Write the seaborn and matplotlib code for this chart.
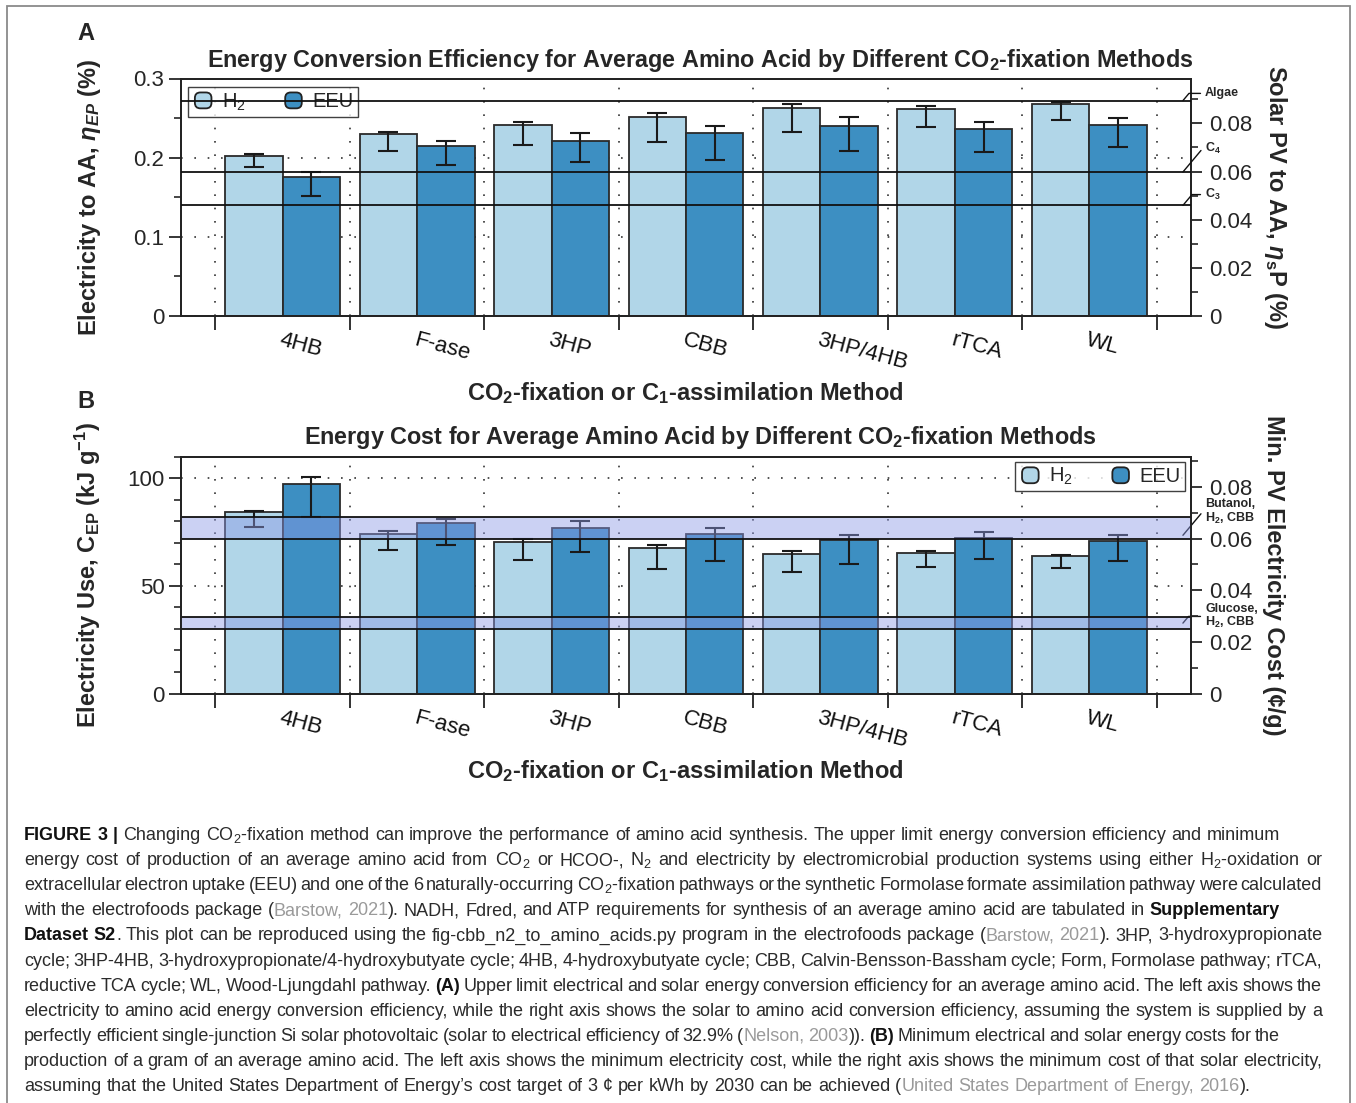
import numpy as np
import pandas as pd
import matplotlib
matplotlib.use("Agg")
import matplotlib.pyplot as plt
import seaborn as sns
from matplotlib.ticker import MultipleLocator
from matplotlib.transforms import IdentityTransform
from matplotlib.patches import Rectangle, FancyBboxPatch
from matplotlib.legend_handler import HandlerPatch

# ---- data ----
methods = ["4HB", "F-ase", "3HP", "CBB", "3HP/4HB", "rTCA", "WL"]
systems = ["H$_2$", "EEU"]

# A: electricity to amino acid efficiency (%)
eff_h2 = [0.202, 0.2294, 0.2416, 0.2517, 0.2626, 0.2618, 0.2676]
eff_h2_lo = [0.188, 0.208, 0.216, 0.2197, 0.2328, 0.2391, 0.2471]
eff_h2_hi = [0.205, 0.2324, 0.2454, 0.2563, 0.2672, 0.2651, 0.2706]
eff_eeu = [0.1756, 0.215, 0.2215, 0.2307, 0.2404, 0.2357, 0.2408]
eff_eeu_lo = [0.152, 0.191, 0.194, 0.197, 0.2084, 0.2071, 0.2134]
eff_eeu_hi = [0.1815, 0.221, 0.231, 0.2404, 0.2509, 0.245, 0.2505]

# B: electricity use (kJ/g)
cost_h2 = [84.2, 74.3, 70.5, 67.8, 64.9, 65.1, 63.7]
cost_h2_lo = [77.2, 66.7, 62.2, 58.0, 56.4, 58.9, 58.1]
cost_h2_hi = [85.0, 75.5, 71.6, 69.1, 66.0, 66.0, 64.3]
cost_eeu = [97.2, 79.2, 76.9, 73.9, 71.1, 72.3, 70.9]
cost_eeu_lo = [81.9, 68.8, 65.5, 61.5, 60.0, 62.5, 61.7]
cost_eeu_hi = [100.6, 81.1, 80.3, 77.1, 73.7, 75.2, 73.4]

# reference organisms (solar -> AA, %)
bio_names = ["Algae", "C$_\\mathbf{4}$", "C$_\\mathbf{3}$"]
bio_solar = [0.0895, 0.0598, 0.0459]
bio_label_off = [0.003, 0.010, 0.0045]

# reference products (kJ/g bands)
band_names = ["Butanol,\nH$_\\mathbf{2}$, CBB", "Glucose,\nH$_\\mathbf{2}$, CBB"]
band_lo = [71.6, 30.0]
band_hi = [81.9, 35.7]
band_leader = [73.5, 32.7]
band_label = [84.2, 35.8]

pv_eff = 0.329        # solar to electricity
price = 3 / 3600      # cents per kJ (3 c per kWh)

H2_COL = "#b1d6e8"
EEU_COL = "#3d8fc2"
BAND_COL = (0.55, 0.6, 0.9)

W, H = 1356, 1103

sns.set_style("ticks")
plt.rcParams["font.family"] = ["Liberation Sans", "DejaVu Sans"]
plt.rcParams["mathtext.fontset"] = "custom"
plt.rcParams["mathtext.rm"] = "Liberation Sans"
plt.rcParams["mathtext.it"] = "Liberation Sans:italic:bold"
plt.rcParams["mathtext.bf"] = "Liberation Sans:bold"

fig = plt.figure(figsize=(W / 100, H / 100), dpi=100)
fig.patch.set_facecolor("white")


def px(x, y):
    return x / W, 1 - y / H


class RoundHandler(HandlerPatch):
    # rounded legend swatches like the reference
    def create_artists(self, legend, orig_handle, xdescent, ydescent, width, height, fontsize, trans):
        p = FancyBboxPatch((-xdescent + 2, -ydescent + 1), width - 4, height - 2,
                           boxstyle="round,pad=0,rounding_size=4",
                           facecolor=orig_handle.get_facecolor(), edgecolor="#222",
                           lw=1.3, transform=trans)
        return [p]


def draw_bars(ax, h2, h2_lo, h2_hi, eeu, eeu_lo, eeu_hi):
    df = pd.DataFrame({"method": methods * 2,
                       "system": [systems[0]] * 7 + [systems[1]] * 7,
                       "value": h2 + eeu})
    sns.barplot(data=df, x="method", y="value", hue="system", order=methods,
                hue_order=systems, palette=[H2_COL, EEU_COL], saturation=1, width=0.855,
                edgecolor="#2a2a2a", linewidth=1.3, errorbar=None, legend=False,
                ax=ax, zorder=2)
    conts = list(ax.containers)[:2]
    for cont, v, lo, hi in zip(conts, [h2, eeu], [h2_lo, eeu_lo], [h2_hi, eeu_hi]):
        xs = [b.get_x() + b.get_width() / 2 for b in cont]
        v = np.array(v)
        ax.errorbar(xs, v, yerr=[v - np.array(lo), np.array(hi) - v], fmt="none",
                    ecolor="#1a1a1a", elinewidth=1.5, capsize=7, capthick=1.5, zorder=3)
    ax.set_xlim(-0.755, 6.755)
    ax.set_xticks(range(len(methods)))
    ax.set_xticklabels(methods, rotation=-15, ha="left", rotation_mode="anchor")
    ax.set_xticks(np.arange(-0.5, len(methods)), minor=True)
    ax.tick_params(axis="x", which="major", length=0, pad=10, labelsize=16, colors="#111")
    ax.tick_params(axis="x", which="minor", length=10, width=1.3, direction="out", color="#222")
    ax.tick_params(axis="y", which="major", length=9, width=1.3, labelsize=16, pad=3)
    ax.tick_params(axis="y", which="minor", length=5, width=1.2)
    ax.grid(True, axis="x", which="minor", ls=(0, (1, 7)), color="#333", lw=1.2)
    ax.grid(True, axis="y", which="major", ls=(0, (1, 7)), color="#333", lw=1.2)
    ax.grid(False, axis="x", which="major")
    ax.set_axisbelow(True)
    ax.set_xlabel("")
    ax.set_ylabel("")
    for s in ax.spines.values():
        s.set_visible(True)
        s.set_linewidth(1.3)
        s.set_color("#222")


def add_legend(ax, loc, anchor):
    handles = [c[0] for c in list(ax.containers)[:2]]
    leg = ax.legend(handles=handles, labels=systems, loc=loc, bbox_to_anchor=anchor,
                    borderaxespad=0, ncol=2, fontsize=14.5, frameon=True, fancybox=False,
                    edgecolor="#111", handlelength=1.1, handleheight=1.05, columnspacing=1.8,
                    handletextpad=0.4, borderpad=0.2, handler_map={Rectangle: RoundHandler()})
    leg.get_frame().set_linewidth(1.0)
    leg.set_zorder(7)
    return leg


def style_twin(ax2, top, ticks, labels):
    ax2.set_ylim(0, top)
    ax2.set_yticks(ticks)
    ax2.set_yticklabels(labels)
    ax2.yaxis.set_minor_locator(MultipleLocator(0.01))
    ax2.tick_params(axis="y", which="major", length=8, width=1.3, labelsize=16, pad=5)
    ax2.tick_params(axis="y", which="minor", length=5, width=1.2)
    for s in ax2.spines.values():
        s.set_linewidth(1.3)
        s.set_color("#222")


leader = dict(arrowstyle="-", color="#111", lw=1.0, shrinkA=1, shrinkB=0,
              connectionstyle="angle,angleA=0,angleB=50,rad=0")
LAB = 17

# ---- panel A ----
axA = fig.add_axes([181 / W, 1 - 315.7 / H, 1010 / W, 237.2 / H])
draw_bars(axA, eff_h2, eff_h2_lo, eff_h2_hi, eff_eeu, eff_eeu_lo, eff_eeu_hi)
axA.set_ylim(0, 0.3)
axA.set_yticks([0, 0.1, 0.2, 0.3])
axA.set_yticklabels(["0", "0.1", "0.2", "0.3"])
axA.yaxis.set_minor_locator(MultipleLocator(0.05))
axA.set_ylabel(r"Electricity to AA, $\eta_{EP}$ (%)", fontsize=LAB, weight="bold")
axA.yaxis.set_label_coords(-0.077, 0.5)
add_legend(axA, "upper left", (0.007, 0.964))

axA2 = axA.twinx()
style_twin(axA2, 0.3 * pv_eff, [0, 0.02, 0.04, 0.06, 0.08], ["0", "0.02", "0.04", "0.06", "0.08"])
axA2.set_ylabel(r"Solar PV to AA, $\eta_{\mathbf{s}}$P (%)", fontsize=LAB, weight="bold",
                rotation=-90, va="bottom")
axA2.yaxis.set_label_coords(1.07, 0.5)
for name, v, off in zip(bio_names, bio_solar, bio_label_off):
    axA2.axhline(v, color="#111", lw=1.3, zorder=6)
    axA2.annotate(name, xy=(6.695, v), xytext=(1.014, v + off),
                  textcoords=axA2.get_yaxis_transform(), ha="left", va="center",
                  fontsize=9, weight="bold", arrowprops=leader, annotation_clip=False)

# ---- panel B ----
axB = fig.add_axes([181 / W, 1 - 693.5 / H, 1010 / W, 236.8 / H])
draw_bars(axB, cost_h2, cost_h2_lo, cost_h2_hi, cost_eeu, cost_eeu_lo, cost_eeu_hi)
axB.set_ylim(0, 110)
axB.set_yticks([0, 50, 100])
axB.set_yticklabels(["0", "50", "100"])
axB.yaxis.set_minor_locator(MultipleLocator(10))
axB.set_ylabel(r"Electricity Use, C$_\mathbf{EP}$ (kJ g$^\mathbf{-1}$)", fontsize=LAB, weight="bold")
axB.yaxis.set_label_coords(-0.077, 0.5)
for lo, hi in zip(band_lo, band_hi):
    axB.axhspan(lo, hi, color=BAND_COL, alpha=0.45, lw=0, zorder=4)
    axB.axhline(lo, color="#111", lw=1.3, zorder=5)
    axB.axhline(hi, color="#111", lw=1.3, zorder=5)
for name, y0, y1 in zip(band_names, band_leader, band_label):
    axB.annotate(name, xy=(6.695, y0), xytext=(1.014, y1),
                 textcoords=axB.get_yaxis_transform(), ha="left", va="center",
                 fontsize=9, weight="bold", linespacing=1.05, arrowprops=leader,
                 annotation_clip=False)
add_legend(axB, "upper right", (0.994, 0.978))

axB2 = axB.twinx()
style_twin(axB2, 110 * price, [0, 0.02, 0.04, 0.06, 0.08], ["0", "0.02", "0.04", "0.06", "0.08"])
axB2.set_ylabel("Min. PV Electricity Cost (¢/g)", fontsize=LAB, weight="bold",
                rotation=-90, va="bottom")
axB2.yaxis.set_label_coords(1.07, 0.5)

# ---- titles, axis labels, panel letters ----
fig.text(*px(700, 60), "Energy Conversion Efficiency for Average Amino Acid by Different CO$_\\mathbf{2}$-fixation Methods",
         ha="center", va="center", fontsize=16.8, weight="bold")
fig.text(*px(700, 438), "Energy Cost for Average Amino Acid by Different CO$_\\mathbf{2}$-fixation Methods",
         ha="center", va="center", fontsize=16.8, weight="bold")
xlab = "CO$_\\mathbf{2}$-fixation or C$_\\mathbf{1}$-assimilation Method"
fig.text(*px(685, 393), xlab, ha="center", va="center", fontsize=17, weight="bold")
fig.text(*px(685, 771), xlab, ha="center", va="center", fontsize=17, weight="bold")
fig.text(*px(86, 33), "A", ha="center", va="center", fontsize=17, weight="bold")
fig.text(*px(86, 402), "B", ha="center", va="center", fontsize=17, weight="bold")

# frame around the figure
fig.add_artist(Rectangle((7 / W, -0.02), (1350 - 7) / W, 1 - 6 / H + 0.02,
                         transform=fig.transFigure, fill=False, edgecolor="#8a8a8a", lw=1.3))

# ---- caption ----
caption = [
    [("FIGURE 3 |", "b"), (" Changing CO$_2$-fixation method can improve the performance of amino acid synthesis. The upper limit energy conversion efficiency and minimum", "n")],
    [("energy cost of production of an average amino acid from CO$_2$ or HCOO-, N$_2$ and electricity by electromicrobial production systems using either H$_2$-oxidation or", "n")],
    [("extracellular electron uptake (EEU) and one of the 6 naturally-occurring CO$_2$-fixation pathways or the synthetic Formolase formate assimilation pathway were calculated", "n")],
    [("with the electrofoods package (", "n"), ("Barstow, 2021", "g"), ("). NADH, Fdred, and ATP requirements for synthesis of an average amino acid are tabulated in ", "n"), ("Supplementary", "b")],
    [("Dataset S2", "b"), (". This plot can be reproduced using the fig-cbb_n2_to_amino_acids.py program in the electrofoods package (", "n"), ("Barstow, 2021", "g"), ("). 3HP, 3-hydroxypropionate", "n")],
    [("cycle; 3HP-4HB, 3-hydroxypropionate/4-hydroxybutyate cycle; 4HB, 4-hydroxybutyate cycle; CBB, Calvin-Bensson-Bassham cycle; Form, Formolase pathway; rTCA,", "n")],
    [("reductive TCA cycle; WL, Wood-Ljungdahl pathway. ", "n"), ("(A)", "b"), (" Upper limit electrical and solar energy conversion efficiency for an average amino acid. The left axis shows the", "n")],
    [("electricity to amino acid energy conversion efficiency, while the right axis shows the solar to amino acid conversion efficiency, assuming the system is supplied by a", "n")],
    [("perfectly efficient single-junction Si solar photovoltaic (solar to electrical efficiency of 32.9% (", "n"), ("Nelson, 2003", "g"), (")). ", "n"), ("(B)", "b"), (" Minimum electrical and solar energy costs for the", "n")],
    [("production of a gram of an average amino acid. The left axis shows the minimum electricity cost, while the right axis shows the minimum cost of that solar electricity,", "n")],
    [("assuming that the United States Department of Energy\u2019s cost target of 3 \u00a2 per kWh by 2030 can be achieved (", "n"), ("United States Department of Energy, 2016", "g"), (").", "n")],
]
line_right = [1280, 1322, 1322, 1280, 1322, 1322, 1322, 1322, 1280, 1322, None]
styles = {"n": dict(color="#2b2b2b", weight="normal"),
          "b": dict(color="#111111", weight="bold"),
          "g": dict(color="#9a9a9a", weight="normal")}
cap_size = 13.0
renderer = fig.canvas.get_renderer()
space_w = 0.278 * cap_size * 100 / 72

for i, (segs, xr) in enumerate(zip(caption, line_right)):
    words = [[]]
    for text, sty in segs:
        for k, part in enumerate(text.split(" ")):
            if k > 0:
                words.append([])
            if part:
                words[-1].append((part, sty))
    words = [w for w in words if w]
    arts = []
    for w in words:
        items = []
        for part, sty in w:
            t = fig.text(0, 0, part, transform=IdentityTransform(), fontsize=cap_size,
                         va="baseline", ha="left", **styles[sty])
            items.append((t, t.get_window_extent(renderer).width))
        arts.append(items)
    widths = [sum(wd for _, wd in items) for items in arts]
    gap = space_w if xr is None else max((xr - 24 - sum(widths)) / (len(arts) - 1), 2.5)
    x = 24
    yb = H - (840 + i * 25.1)
    for items, wsum in zip(arts, widths):
        xx = x
        for t, wd in items:
            t.set_position((xx, yb))
            xx += wd
        x += wsum + gap

fig.savefig("out.png", dpi=100)
